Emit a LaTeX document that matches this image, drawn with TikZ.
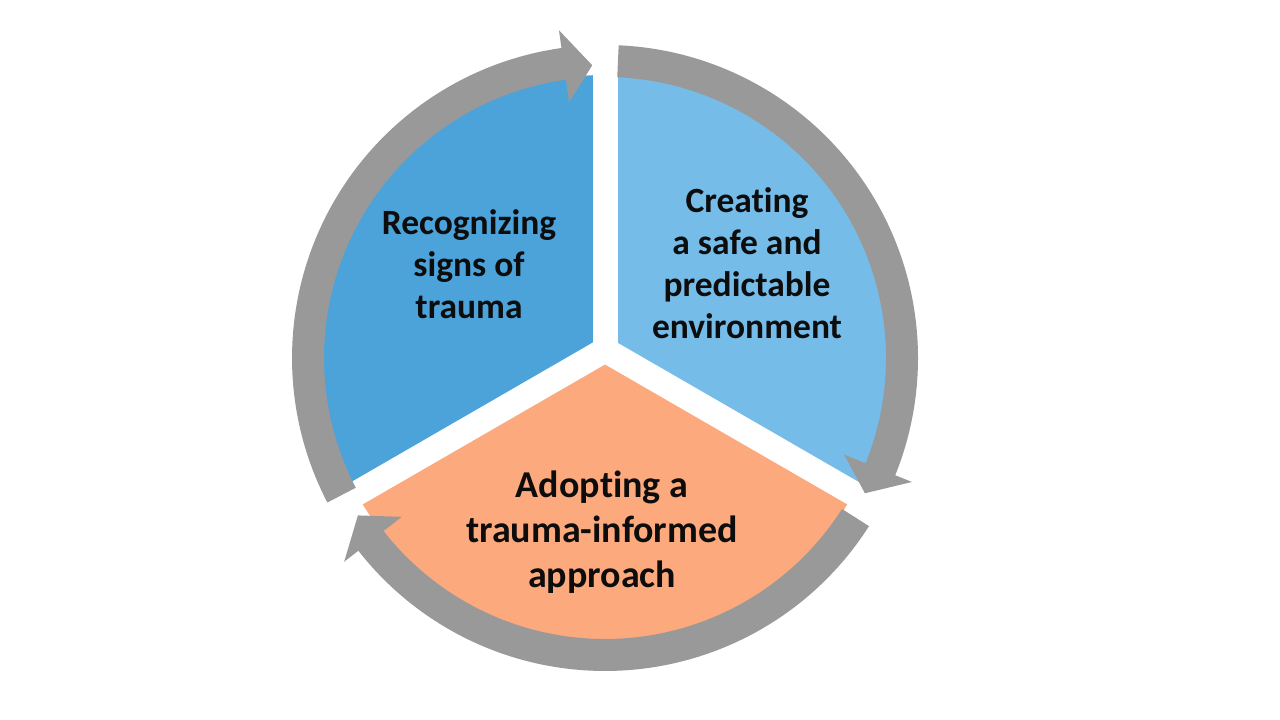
\documentclass[tikz,border=0pt]{standalone}
\usepackage{fontspec}
\setmainfont{Carlito}[Ligatures={NoCommon,NoRare}]
\usetikzlibrary{calc}
\definecolor{segblue}{HTML}{4BA3DA}
\definecolor{seglight}{HTML}{75BCE8}
\definecolor{segorange}{HTML}{FBA97D}
\definecolor{ringgray}{HTML}{999999}
\definecolor{textdark}{HTML}{0D0D0D}

\begin{document}
\begin{tikzpicture}[
  segtext/.style={font=\bfseries\fontsize{10.1}{11.9}\selectfont, align=center, text=textdark},
  bigtext/.style={font=\bfseries\fontsize{10.8}{12.8}\selectfont, align=center, text=textdark}]
  \useasboundingbox[fill=white] (0,0) rectangle (12.8,7.2);
  \coordinate (C) at (6.05,3.62);
  \coordinate (J) at (6.05,3.70);
  \fill[segblue] (C) -- ++(90:2.83) arc[start angle=90, end angle=210, radius=2.83] -- cycle;
  \fill[seglight] (C) -- ++(-30:2.83) arc[start angle=-30, end angle=90, radius=2.83] -- cycle;
  \fill[segorange] (C) -- ++(210:2.83) arc[start angle=210, end angle=330, radius=2.83] -- cycle;
  \foreach \a in {90,210,330}
    \draw[white, line width=0.25cm] (J) -- ++(\a:3.0);
  \foreach \s/\t in {207.5/92.5, 87.5/-27.5, -32.5/-147.5} {
    \pgfmathsetmacro{\hb}{\t+5.5}
    \fill[ringgray] ($(C)+(\s:3.13)$) arc[start angle=\s, end angle=\hb, radius=3.13]
      -- ($(C)+(\hb:3.31)$) -- ($(C)+(\t:2.93)$) -- ($(C)+(\hb:2.58)$) -- ($(C)+(\hb:2.81)$)
      arc[start angle=\hb, end angle=\s, radius=2.81] -- cycle;
  }
  \node[segtext] (recognize) at (4.69,4.56) {Recognizing\\signs of\\trauma};
  \node[segtext] (safeenv) at (7.47,4.57) {Creating\\a safe and\\predictable\\environment};
  \node[bigtext] (approach) at (6.02,1.88) {Adopting a\\trauma-informed\\approach};
\end{tikzpicture}
\end{document}
